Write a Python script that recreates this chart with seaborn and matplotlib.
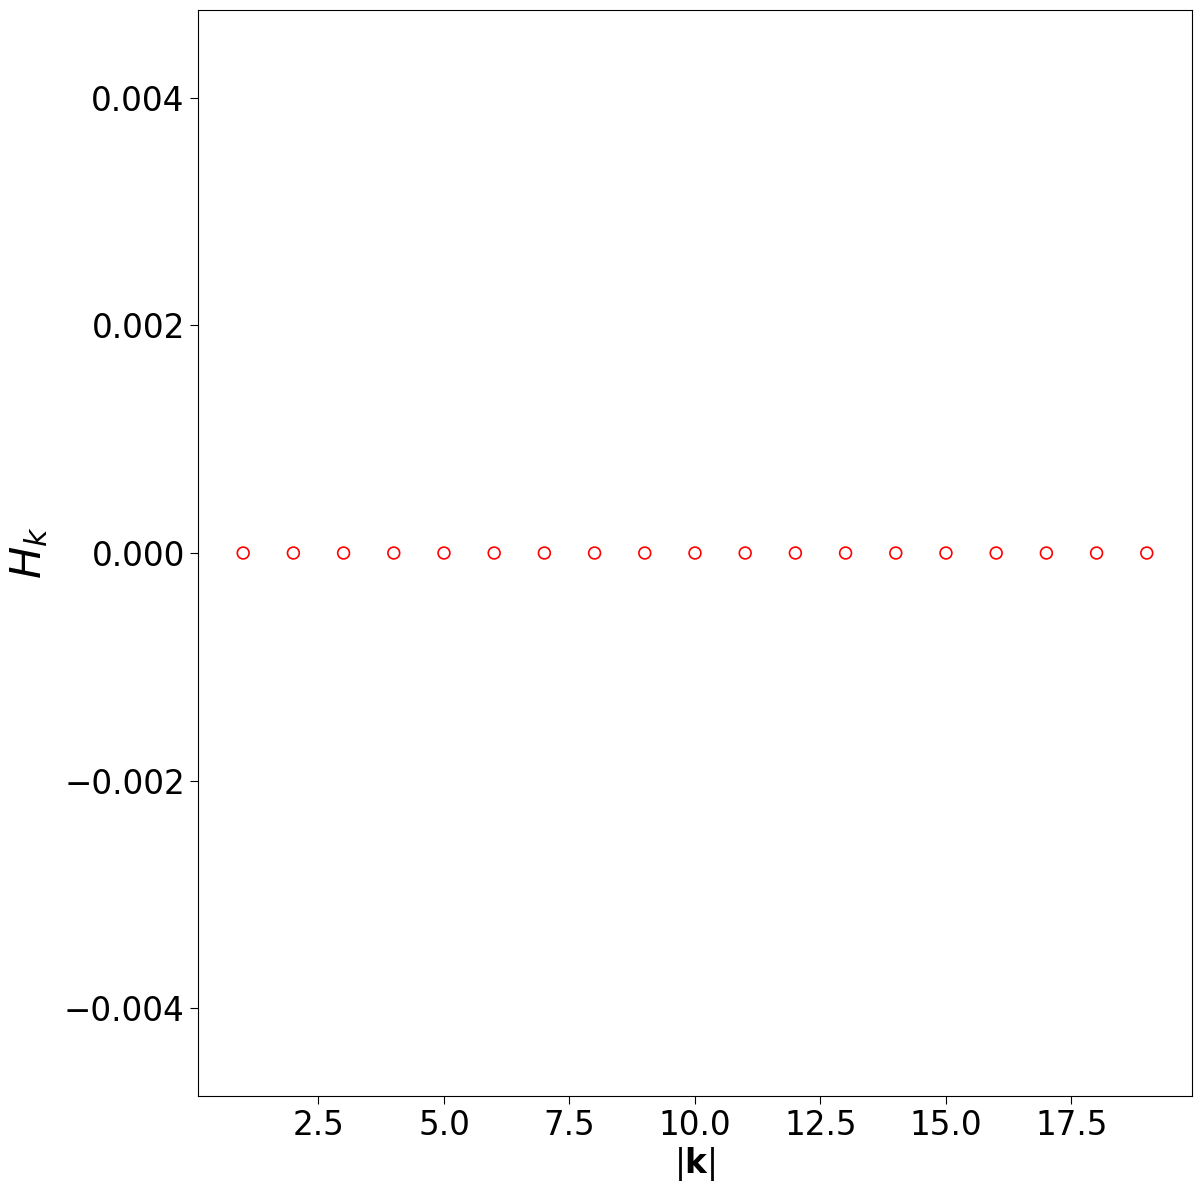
import numpy as np
import pandas as pd
import matplotlib
matplotlib.use("Agg")
import matplotlib.pyplot as plt
import seaborn as sns

# helicity spectrum per shell |k|
k_shell = [1, 2, 3, 4, 5, 6, 7, 8, 9, 10, 11, 12, 13, 14, 15, 16, 17, 18, 19]
H_k = [0.0] * 19

df = pd.DataFrame({"k": k_shell, "H": H_k})

fig, ax = plt.subplots(figsize=(12, 11.93), dpi=100)
fig.subplots_adjust(left=0.165, right=0.9933, top=0.9916, bottom=0.0813)

sns.scatterplot(data=df, x="k", y="H", ax=ax, marker="o", s=72,
                facecolor="none", edgecolor="red", linewidth=1.2)

ax.set_ylim(-0.00477, 0.00477)
ax.set_yticks([-0.004, -0.002, 0.0, 0.002, 0.004])
ax.set_xlabel(r"$|\mathbf{k}|$", fontsize=23.5, labelpad=2)
ax.set_ylabel(r"$H_k$", fontsize=31, labelpad=10)
ax.tick_params(labelsize=23.5, length=6)

plt.savefig("out.png", dpi=100)
plt.close()
